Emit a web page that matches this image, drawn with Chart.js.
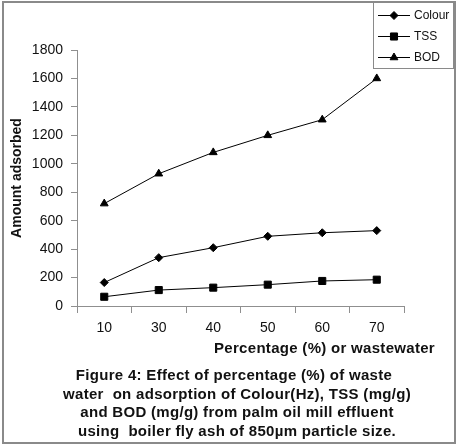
<!DOCTYPE html>
<html>
<head>
<meta charset="utf-8">
<script src="https://cdn.jsdelivr.net/npm/chart.js@4/dist/chart.umd.min.js"></script>
<style>
  html, body { margin:0; padding:0; background:#fff; }
  body { width:459px; height:445px; position:relative; overflow:hidden; font-family:"Liberation Sans", Arial, sans-serif; }
  #wrap { position:absolute; left:0; top:0; width:459px; height:445px; }
  #frame { position:absolute; left:2px; top:1px; width:450px; height:439px; border:2px solid #8a8a8a; pointer-events:none; }
  #xtitle { position:absolute; right:24px; top:339px; font-weight:bold; font-size:15px; letter-spacing:0.3px; color:#111; white-space:pre; }
  #caption { position:absolute; left:0; width:474px; top:366px; text-align:center; font-weight:bold; font-size:15px; letter-spacing:0.3px; line-height:18.7px; color:#111; white-space:pre; }
</style>
</head>
<body>
<div id="wrap"><canvas id="c" width="459" height="445"></canvas></div>
<div id="frame"></div>
<div id="xtitle">Percentage (%) or wastewater</div>
<div id="caption"><div style="padding-right:6px">Figure 4: Effect of percentage (%) of waste</div><div>water  on adsorption of Colour(Hz), TSS (mg/g)</div><div>and BOD (mg/g) from palm oil mill effluent</div><div>using  boiler fly ash of 850µm particle size.</div></div>
<script>
const categories = ['10', '30', '40', '50', '60', '70'];
const colourValues = [165, 340, 410, 490, 515, 530];
const tssValues = [65, 112, 129, 150, 176, 185];
const bodValues = [720, 930, 1080, 1200, 1310, 1600];
const seriesNames = ['Colour', 'TSS', 'BOD'];
const yTitle = 'Amount adsorbed';

const pointStyles = ['rectRot', 'rect', 'triangle'];
const pointRadii = [4, 5, 4.5];

const legendPlugin = {
  id: 'boxLegend',
  afterDraw(chart) {
    const ctx = chart.ctx;
    ctx.save();
    ctx.strokeStyle = '#8a8a8a';
    ctx.lineWidth = 1;
    ctx.strokeRect(373.5, 2.5, 80, 66);
    chart.data.datasets.forEach((ds, i) => {
      const y = 15 + i * 21;
      ctx.strokeStyle = '#000';
      ctx.lineWidth = 1;
      ctx.beginPath();
      ctx.moveTo(378, y + 0.5);
      ctx.lineTo(410, y + 0.5);
      ctx.stroke();
      ctx.fillStyle = '#000';
      Chart.helpers.drawPoint(ctx, { pointStyle: ds.pointStyle, radius: ds.pointRadius, rotation: 0, borderWidth: 1 }, 394, y + 0.5);
      ctx.fillStyle = '#111';
      ctx.font = '12px "Liberation Sans", Arial, sans-serif';
      ctx.textBaseline = 'middle';
      ctx.textAlign = 'left';
      ctx.fillText(ds.label, 414, y + 1);
    });
    ctx.restore();
  }
};

const allValues = [colourValues, tssValues, bodValues];
new Chart(document.getElementById('c'), {
  type: 'line',
  data: {
    labels: categories,
    datasets: seriesNames.map((name, i) => ({
      label: name,
      data: allValues[i],
      borderColor: '#000',
      backgroundColor: '#000',
      borderWidth: 1,
      pointStyle: pointStyles[i],
      pointRadius: pointRadii[i],
      pointBorderWidth: 1,
      fill: false,
      tension: 0
    }))
  },
  options: {
    responsive: false,
    animation: false,
    devicePixelRatio: 1,
    layout: { padding: { left: 5, top: 50, right: 55, bottom: 94 } },
    plugins: { legend: { display: false }, tooltip: { enabled: false } },
    scales: {
      x: {
        type: 'category',
        offset: true,
        afterFit(s) { s.height = 45; },
        border: { color: '#8f8f8f', width: 1 },
        grid: { display: true, drawOnChartArea: false, drawTicks: true, tickLength: 7, color: '#8f8f8f', offset: true },
        ticks: { color: '#111', padding: 7, font: { family: '"Liberation Sans", Arial, sans-serif', size: 14 } }
      },
      y: {
        min: 0, max: 1800,
        afterFit(s) { s.width = 72; },
        border: { color: '#8f8f8f', width: 1 },
        grid: { display: true, drawOnChartArea: false, drawTicks: true, tickLength: 6, color: '#8f8f8f' },
        ticks: { stepSize: 200, color: '#111', padding: 8, callback: v => String(v), font: { family: '"Liberation Sans", Arial, sans-serif', size: 14 } },
        title: { display: true, text: yTitle, color: '#111', padding: { top: 4, bottom: 0 }, font: { family: '"Liberation Sans", Arial, sans-serif', size: 14, weight: 'bold' } }
      }
    }
  },
  plugins: [legendPlugin]
});
</script>
</body>
</html>
